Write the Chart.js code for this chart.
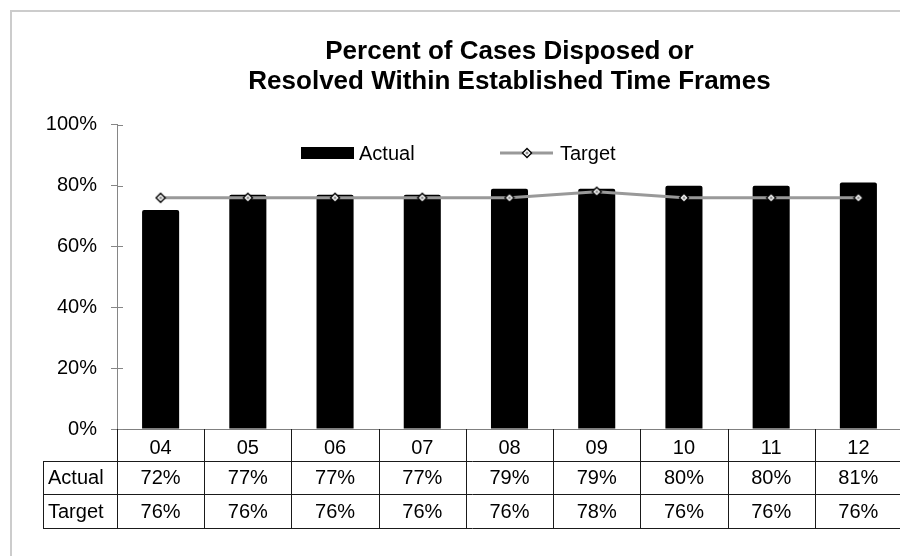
<!DOCTYPE html>
<html>
<head>
<meta charset="utf-8">
<title>Percent of Cases Disposed or Resolved Within Established Time Frames</title>
<script src="https://cdn.jsdelivr.net/npm/chart.js@4.4.1/dist/chart.umd.min.js"></script>
<style>
  html, body { margin: 0; padding: 0; background: #fff; overflow: hidden; width: 900px; height: 556px; }
  canvas { display: block; }
</style>
</head>
<body>
<canvas id="chart" width="911" height="556"></canvas>
<script>
// values
const years = ['04', '05', '06', '07', '08', '09', '10', '11', '12'];
const actual = [72, 77, 77, 77, 79, 79, 80, 80, 81];
const target = [76, 76, 76, 76, 76, 78, 76, 76, 76];
const yTicks = [0, 20, 40, 60, 80, 100];
const titleLines = ['Percent of Cases Disposed or', 'Resolved Within Established Time Frames'];

const FONT = "'Liberation Sans', Arial, sans-serif";
const LINE_GREY = '#999999';

// diamond marker: black edge, white ring, grey centre
function makeDiamond() {
  const c = document.createElement('canvas');
  c.width = 12; c.height = 12;
  const g = c.getContext('2d');
  function diamond(r, color) {
    g.beginPath();
    g.moveTo(6, 6 - r); g.lineTo(6 + r, 6); g.lineTo(6, 6 + r); g.lineTo(6 - r, 6);
    g.closePath();
    g.fillStyle = color;
    g.fill();
  }
  diamond(5.5, '#000');
  diamond(3.6, '#fff');
  diamond(1.8, '#8c8c8c');
  return c;
}
const diamondMarker = makeDiamond();

// light grey frame round the chart (only top and left show)
const framePlugin = {
  id: 'frame',
  beforeDraw(chart) {
    const ctx = chart.ctx;
    ctx.save();
    ctx.strokeStyle = '#cccccc';
    ctx.lineWidth = 2;
    ctx.strokeRect(11, 11, 2000, 2000);
    ctx.restore();
  }
};

// tick marks crossing the y axis
const crossTicks = {
  id: 'crossTicks',
  afterDraw(chart) {
    const ctx = chart.ctx, y = chart.scales.y, area = chart.chartArea;
    ctx.save();
    ctx.strokeStyle = '#868686';
    ctx.lineWidth = 1;
    y.ticks.forEach(t => {
      const py = Math.round(y.getPixelForValue(t.value)) + 0.5;
      ctx.beginPath();
      ctx.moveTo(area.left, py);
      ctx.lineTo(area.left + 6, py);
      ctx.stroke();
    });
    ctx.restore();
  }
};

// legend drawn inside the plot area
const innerLegend = {
  id: 'innerLegend',
  afterDraw(chart) {
    const ctx = chart.ctx;
    const ly = 153;
    ctx.save();
    ctx.font = '20px ' + FONT;
    ctx.fillStyle = '#000';
    ctx.textBaseline = 'middle';
    // Actual
    ctx.fillRect(301, ly - 6, 53, 12);
    ctx.fillText(chart.data.datasets[0].label, 359, ly + 1);
    // Target
    ctx.strokeStyle = LINE_GREY;
    ctx.lineWidth = 3;
    ctx.beginPath();
    ctx.moveTo(500, ly);
    ctx.lineTo(553, ly);
    ctx.stroke();
    ctx.drawImage(diamondMarker, 527 - 6, ly - 6);
    ctx.fillStyle = '#000';
    ctx.fillText(chart.data.datasets[1].label, 560, ly + 1);
    ctx.restore();
  }
};

// data table under the x axis
const dataTable = {
  id: 'dataTable',
  afterDraw(chart) {
    const ctx = chart.ctx, x = chart.scales.x, area = chart.chartArea;
    const half = (x.getPixelForValue(1) - x.getPixelForValue(0)) / 2;
    const left = x.getPixelForValue(0) - half;
    const right = x.getPixelForValue(years.length - 1) + half;
    const top = area.bottom;
    const rowLines = [top + 32, top + 65, top + 99];
    const labelLeft = 43;
    const rows = chart.data.datasets.map(ds => ({ label: ds.label, values: ds.data }));
    const px = v => Math.round(v) + 0.5;

    ctx.save();
    ctx.strokeStyle = '#1a1a1a';
    ctx.lineWidth = 1;
    ctx.beginPath();
    rowLines.forEach(ry => {
      ctx.moveTo(labelLeft, px(ry));
      ctx.lineTo(right, px(ry));
    });
    for (let i = 0; i <= years.length; i++) {
      const cx = px(left + i * half * 2);
      ctx.moveTo(cx, top);
      ctx.lineTo(cx, rowLines[2]);
    }
    ctx.moveTo(px(labelLeft), rowLines[0]);
    ctx.lineTo(px(labelLeft), rowLines[2]);
    ctx.stroke();

    ctx.font = '20px ' + FONT;
    ctx.fillStyle = '#000';
    ctx.textBaseline = 'middle';
    rows.forEach((row, r) => {
      const cy = (rowLines[r] + rowLines[r + 1]) / 2 + 1;
      ctx.textAlign = 'left';
      ctx.fillText(row.label, labelLeft + 5, cy);
      ctx.textAlign = 'center';
      row.values.forEach((v, i) => {
        ctx.fillText(v + '%', x.getPixelForValue(i), cy);
      });
    });
    ctx.restore();
  }
};

new Chart(document.getElementById('chart').getContext('2d'), {
  type: 'bar',
  data: {
    labels: years,
    datasets: [{
      type: 'bar',
      label: 'Actual',
      data: actual,
      backgroundColor: '#000',
      borderRadius: { topLeft: 2, topRight: 2 },
      borderSkipped: 'bottom',
      categoryPercentage: 1,
      barPercentage: 0.425,
      order: 2
    }, {
      type: 'line',
      label: 'Target',
      data: target,
      borderColor: LINE_GREY,
      borderWidth: 3,
      pointStyle: diamondMarker,
      pointRadius: 6,
      tension: 0,
      fill: false,
      order: 1
    }]
  },
  options: {
    responsive: false,
    animation: false,
    devicePixelRatio: 1,
    layout: { padding: 0 },
    plugins: {
      legend: { display: false },
      tooltip: { enabled: false },
      title: {
        display: true,
        text: titleLines,
        fullSize: false,
        color: '#000',
        font: { family: FONT, size: 26, weight: 'bold', lineHeight: 1.15 },
        padding: { top: 37, bottom: 28 }
      }
    },
    scales: {
      x: {
        type: 'category',
        grid: { display: false },
        border: { display: true, color: '#808080', width: 1 },
        ticks: {
          color: '#000',
          font: { family: FONT, size: 20 },
          padding: -1,
          maxRotation: 0,
          autoSkip: false
        },
        afterFit(scale) { scale.height = 127; }
      },
      y: {
        min: 0,
        max: 100,
        afterBuildTicks(scale) { scale.ticks = yTicks.map(v => ({ value: v })); },
        grid: { drawOnChartArea: false, drawTicks: true, tickLength: 6, color: '#868686' },
        border: { display: true, color: '#868686', width: 1 },
        ticks: {
          color: '#000',
          font: { family: FONT, size: 20 },
          padding: 14,
          callback: v => v + '%'
        },
        afterFit(scale) { scale.width = 117; }
      }
    }
  },
  plugins: [framePlugin, crossTicks, innerLegend, dataTable]
});
</script>
</body>
</html>
